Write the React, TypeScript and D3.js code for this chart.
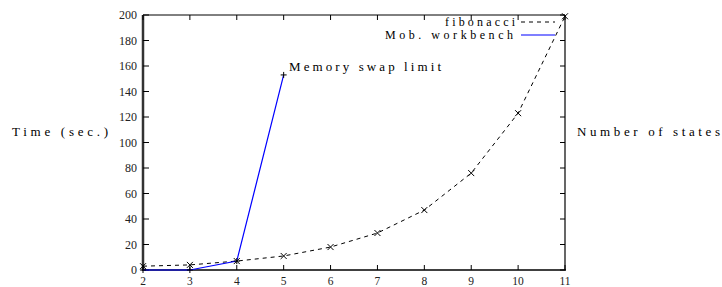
import React from "react";
import * as d3 from "d3";

const states = [2, 3, 4, 5, 6, 7, 8, 9, 10, 11];
const fibonacci = [3, 4, 7, 11, 18, 29, 47, 76, 123, 199];
const mobStates = [2, 3, 4, 5];
const mobWorkbench = [0, 0, 7, 153];
const yTicks = [0, 20, 40, 60, 80, 100, 120, 140, 160, 180, 200];
const xTicks = [2, 3, 4, 5, 6, 7, 8, 9, 10, 11];

const W = 722, H = 287;
const L = 143, R = 565, T = 15, B = 270;
const serif = "Liberation Serif";

export default function App() {
  const x = d3.scaleLinear().domain([2, 11]).range([L, R]);
  const y = d3.scaleLinear().domain([0, 200]).range([B, T]);
  const fibPts: [number, number][] = states.map((s, i) => [x(s), y(fibonacci[i])]);
  const mobPts: [number, number][] = mobStates.map((s, i) => [x(s), y(mobWorkbench[i])]);
  const line = d3.line();
  const m = 3;
  return (
    <svg width={W} height={H} style={{ position: "absolute", left: 0, top: 0, background: "#fff" }}>
      {/* frame */}
      <line x1={L} x2={R} y1={T} y2={T} stroke="#000" strokeWidth={1} />
      <line x1={R} x2={R} y1={T} y2={B} stroke="#000" strokeWidth={1.2} />
      <line x1={L} x2={R + 1} y1={B} y2={B} stroke="#000" strokeWidth={1.5} />
      <line x1={L} x2={L} y1={T} y2={B + 1} stroke="#333" strokeWidth={2.5} />
      {yTicks.map((t) => (
        <g key={"y" + t}>
          <line x1={L} x2={L + 6} y1={y(t)} y2={y(t)} stroke="#000" />
          <line x1={R - 5} x2={R} y1={y(t)} y2={y(t)} stroke="#000" />
          <text x={137} y={y(t)} dy="0.35em" textAnchor="end" fontFamily={serif} fontSize={12} fill="#222">{t}</text>
        </g>
      ))}
      {xTicks.map((t) => (
        <g key={"x" + t}>
          <line x1={x(t)} x2={x(t)} y1={B} y2={B - 5} stroke="#000" />
          <line x1={x(t)} x2={x(t)} y1={T} y2={T + 5} stroke="#000" />
          <text x={x(t)} y={284.5} textAnchor="middle" fontFamily={serif} fontSize={11.5} fill="#222">{t}</text>
        </g>
      ))}
      <text x={12} y={131} dy="0.35em" fontFamily={serif} fontSize={13} textLength={96} lengthAdjust="spacing">Time (sec.)</text>
      <text x={577} y={131} dy="0.35em" fontFamily={serif} fontSize={13} textLength={143} lengthAdjust="spacing">Number of states</text>
      {/* series */}
      <path d={line(fibPts) || ""} fill="none" stroke="#000" strokeWidth={1} strokeDasharray="4,4" />
      <path d={line(mobPts) || ""} fill="none" stroke="#00f" strokeWidth={1.2} />
      {fibPts.map(([px, py], i) => (
        <path key={"f" + i} d={`M${px - m},${py - m}L${px + m},${py + m}M${px - m},${py + m}L${px + m},${py - m}`} stroke="#000" strokeWidth={1} />
      ))}
      {mobPts.map(([px, py], i) => (
        <path key={"m" + i} d={`M${px - m},${py}L${px + m},${py}M${px},${py - m}L${px},${py + m}`} stroke="#000" strokeWidth={1} />
      ))}
      <text x={289} y={66} dy="0.35em" fontFamily={serif} fontSize={13} textLength={152} lengthAdjust="spacing">Memory swap limit</text>
      {/* legend */}
      <text x={445} y={22} dy="0.35em" fontFamily={serif} fontSize={12} textLength={70} lengthAdjust="spacing">fibonacci</text>
      <line x1={521} x2={555} y1={22} y2={22} stroke="#000" strokeDasharray="4,4" />
      <text x={385} y={35} dy="0.35em" fontFamily={serif} fontSize={12} textLength={128} lengthAdjust="spacing">Mob. workbench</text>
      <line x1={521} x2={555} y1={35} y2={35} stroke="#00f" strokeWidth={1.2} />
    </svg>
  );
}
